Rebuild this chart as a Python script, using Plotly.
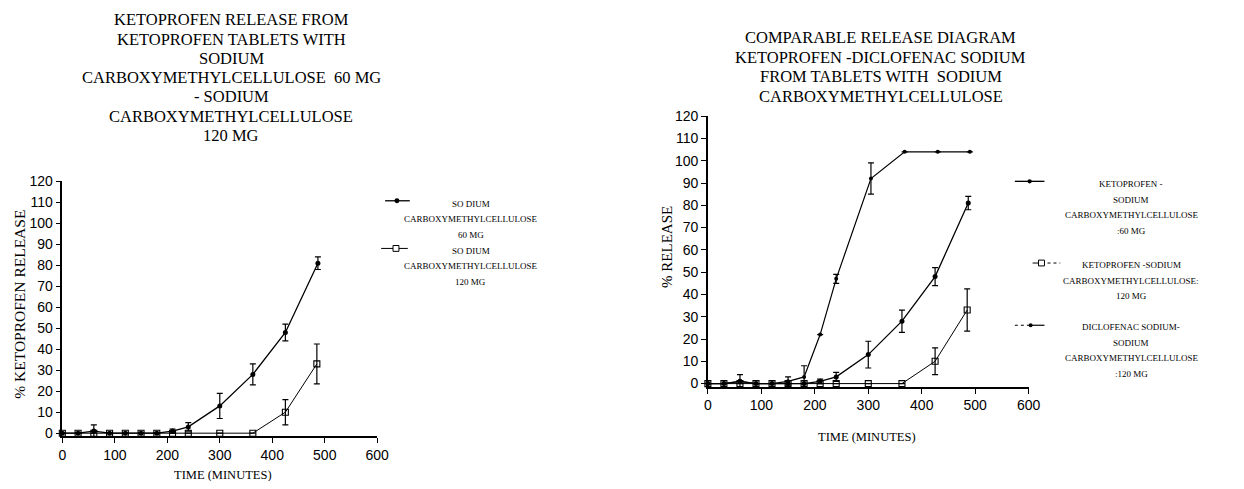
import plotly.graph_objects as go

# window is 1244x489; browser body has an 8px margin, so the figure is 1236x473
W, H = 1236, 473
OFF = 8

# ---------------- data ----------------
time_60 = [0, 30, 60, 90, 120, 150, 180, 210, 240, 300, 363, 425, 487]
rel_60 = [0, 0, 1, 0, 0, 0, 0, 1, 3, 13, 28, 48, 81]
err_60 = [0, 0, 3, 0, 0, 0, 0, 1, 2, 6, 5, 4, 3]

time_120 = [0, 30, 60, 90, 120, 150, 180, 210, 240, 300, 363, 425, 485]
rel_120 = [0, 0, 0, 0, 0, 0, 0, 0, 0, 0, 0, 10, 33]
err_120 = [0, 0, 0, 0, 0, 0, 0, 0, 0, 0, 0, 6, 9.5]

time_dic = [0, 30, 60, 90, 120, 150, 180, 210, 240, 305, 368, 430, 490]
rel_dic = [0, 0, 1, 0, 0, 1, 3, 22, 47, 92, 104, 104, 104]
err_dic = [0, 0, 0, 0, 0, 2, 5, 0, 2, 7, 0, 0, 0]

x_ticks = [0, 100, 200, 300, 400, 500, 600]
y_ticks = [0, 10, 20, 30, 40, 50, 60, 70, 80, 90, 100, 110, 120]

title_left = ["KETOPROFEN RELEASE FROM", "KETOPROFEN TABLETS WITH", "SODIUM",
              "CARBOXYMETHYLCELLULOSE  60 MG", "- SODIUM", "CARBOXYMETHYLCELLULOSE",
              "120 MG"]
title_right = ["COMPARABLE RELEASE DIAGRAM", "KETOPROFEN -DICLOFENAC SODIUM",
               "FROM TABLETS WITH  SODIUM", "CARBOXYMETHYLCELLULOSE"]
legend_left = [["SO DIUM", "CARBOXYMETHYLCELLULOSE", "60 MG"],
               ["SO DIUM", "CARBOXYMETHYLCELLULOSE", "120 MG"]]
legend_right = [["KETOPROFEN -", "SODIUM", "CARBOXYMETHYLCELLULOSE", ":60 MG"],
                ["KETOPROFEN -SODIUM", "CARBOXYMETHYLCELLULOSE:", "120 MG"],
                ["DICLOFENAC SODIUM-", "SODIUM", "CARBOXYMETHYLCELLULOSE", ":120 MG"]]

SERIF = "Liberation Serif"
SANS = "Liberation Sans"


def px(x):
    return (x - OFF) / W


def py(y):
    return 1 - (y - OFF) / H


def err(arr):
    return dict(type="data", array=arr, visible=True, color="black",
                thickness=1.2, width=3)


fig = go.Figure()

# left panel
fig.add_trace(go.Scatter(x=time_60, y=rel_60, error_y=err(err_60), mode="lines+markers",
                         line=dict(color="black", width=1.3),
                         marker=dict(symbol="circle", size=5, color="black"),
                         xaxis="x", yaxis="y", cliponaxis=False, showlegend=False))
fig.add_trace(go.Scatter(x=time_120, y=rel_120, error_y=err(err_120), mode="lines+markers",
                         line=dict(color="black", width=1.0),
                         marker=dict(symbol="square-open", size=6, color="black",
                                     line=dict(width=1.1)),
                         xaxis="x", yaxis="y", cliponaxis=False, showlegend=False))

# right panel
fig.add_trace(go.Scatter(x=time_60, y=rel_60, error_y=err(err_60), mode="lines+markers",
                         line=dict(color="black", width=1.3),
                         marker=dict(symbol="circle", size=5, color="black"),
                         xaxis="x2", yaxis="y2", cliponaxis=False, showlegend=False))
fig.add_trace(go.Scatter(x=time_120, y=rel_120, error_y=err(err_120), mode="lines+markers",
                         line=dict(color="black", width=1.0),
                         marker=dict(symbol="square-open", size=6, color="black",
                                     line=dict(width=1.1)),
                         xaxis="x2", yaxis="y2", cliponaxis=False, showlegend=False))
fig.add_trace(go.Scatter(x=time_dic, y=rel_dic, error_y=err(err_dic), mode="lines+markers",
                         line=dict(color="black", width=1.2),
                         marker=dict(symbol="circle", size=4, color="black"),
                         xaxis="x2", yaxis="y2", cliponaxis=False, showlegend=False))

axis_common = dict(showgrid=False, zeroline=False, showline=True, linecolor="black",
                   linewidth=1.5, ticks="outside", ticklen=5, tickwidth=1.3,
                   tickcolor="black", tickfont=dict(family=SANS, size=14, color="black"))

fig.update_layout(
    width=W, height=H, margin=dict(l=0, r=0, t=0, b=0),
    paper_bgcolor="white", plot_bgcolor="white",
    xaxis=dict(axis_common, domain=[px(59), px(378)], range=[0, 600], tickvals=x_ticks,
               anchor="y"),
    yaxis=dict(axis_common, domain=[py(440.2), py(178)], range=[-1.5, 120],
               tickvals=y_ticks, anchor="x"),
    xaxis2=dict(axis_common, domain=[px(713), px(1038)], range=[0, 600], tickvals=x_ticks,
                anchor="y2"),
    yaxis2=dict(axis_common, domain=[py(389.4), py(111)], range=[-1.5, 120],
                tickvals=y_ticks, anchor="x2"),
)

ann = []


def text(x, y, s, size, family=SERIF, angle=0):
    ann.append(dict(x=px(x), y=py(y), text=s, showarrow=False, xref="paper",
                    yref="paper", xanchor="center", yanchor="middle", align="center",
                    textangle=angle, font=dict(family=family, size=size, color="black")))


# titles, one annotation per line
for i, line in enumerate(title_left):
    text(230, 12 + 19.8 * i, line, 16.5)
for i, line in enumerate(title_right):
    text(888, 30.5 + 20 * i, line, 16.5)

# axis titles
text(222, 480, "TIME (MINUTES)", 12.5)
text(874, 441, "TIME (MINUTES)", 12.5)
text(16, 304, "% KETOPROFEN RELEASE", 15.5, angle=-90)
text(672, 245, "% RELEASE", 15, angle=-90)

# legend texts
for lines, y0 in zip(legend_left, [201, 249.5]):
    for i, line in enumerate(lines):
        text(473, y0 + 16 * i, line, 9)
for lines, y0 in zip(legend_right, [181, 264, 328]):
    for i, line in enumerate(lines):
        text(1142, y0 + 16 * i, line, 9)

fig.update_layout(annotations=ann)

# legend keys
shapes = []


def key_line(x0, x1, y, w=1.2, dash="solid"):
    shapes.append(dict(type="line", xref="paper", yref="paper", x0=px(x0), x1=px(x1),
                       y0=py(y), y1=py(y), line=dict(color="black", width=w, dash=dash)))


def key_dot(xc, y, r):
    shapes.append(dict(type="circle", xref="paper", yref="paper", x0=px(xc - r),
                       x1=px(xc + r), y0=py(y + r), y1=py(y - r),
                       fillcolor="black", line=dict(color="black", width=0)))


def key_square(xc, y, r):
    shapes.append(dict(type="rect", xref="paper", yref="paper", x0=px(xc - r),
                       x1=px(xc + r), y0=py(y + r), y1=py(y - r),
                       fillcolor="white", line=dict(color="black", width=1)))


key_line(386, 411, 198, 1.3)
key_dot(398, 198, 2.5)
key_line(382, 409, 247, 1.0)
key_square(397, 247, 3)

key_line(1024, 1054, 178, 1.3)
key_dot(1039, 178, 2.2)
key_line(1042, 1051, 262, 1.0)
key_line(1051, 1070, 262, 1.0, "dot")
key_square(1051, 262, 3)
key_line(1024, 1040, 326, 1.2, "dot")
key_line(1040, 1054, 326, 1.2)
key_dot(1040, 326, 2)
fig.update_layout(shapes=shapes)

fig.write_html("out.html")
